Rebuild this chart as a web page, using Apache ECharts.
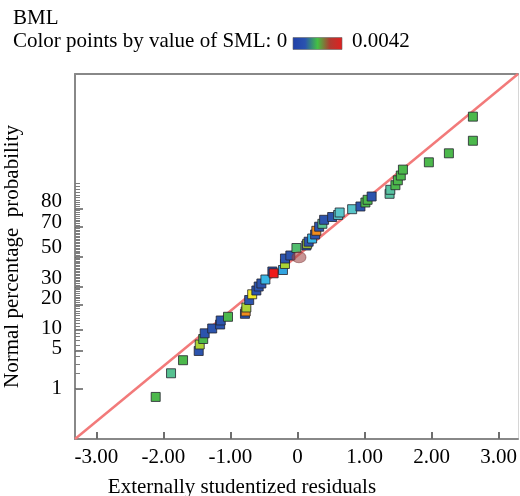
<!DOCTYPE html>
<html><head><meta charset="utf-8">
<script src="https://cdn.jsdelivr.net/npm/echarts@6/dist/echarts.min.js"></script>
<style>html,body{margin:0;padding:0;background:#fff}#c{width:520px;height:496px}</style>
</head><body><div id="c"></div>
<script>
// Externally studentized residuals (x)
const residuals = [-2.116,-1.887,-1.708,-1.474,-1.459,-1.407,-1.385,-1.273,-1.154,-1.146,
  -1.037,-0.784,-0.773,-0.763,-0.721,-0.676,-0.614,-0.579,-0.539,-0.479,
  -0.375,-0.356,-0.217,-0.187,-0.187,-0.107,-0.016,0.132,0.144,0.166,
  0.218,0.263,0.281,0.323,0.371,0.397,0.517,0.606,0.629,0.815,
  0.939,1.013,1.046,1.106,1.374,1.385,1.461,1.497,1.541,1.573,
  1.960,2.259,2.617,2.617];
// Normal % probability (y)
const probabilities = [0.69,2.03,3.45,4.88,6.14,7.40,8.90,10.34,11.66,13.09,
  14.52,15.75,16.75,18.56,22.28,25.38,27.56,29.94,31.80,34.34,
  39.63,38.42,40.64,44.77,48.60,50.70,55.92,57.65,58.81,60.24,
  62.38,65.02,67.39,69.93,71.68,74.01,75.57,76.66,77.98,79.66,
  80.97,82.81,83.99,85.36,86.42,87.89,89.44,90.93,92.22,93.62,
  95.07,96.48,97.88,99.29];
// SML value used for colouring
const smlValues = [0.0021,0.0017,0.0021,0.0001,0.0025,0.0021,0.0001,0.0001,0.0001,0.0001,
  0.0021,0.0001,0.0035,0.0025,0.0001,0.0028,0.0001,0.0001,0.0001,0.0008,
  0.0001,0.0042,0.0006,0.0025,0.0001,0.0001,0.0019,0.0001,0.0025,0.0001,
  0.0008,0.0001,0.0035,0.0001,0.0017,0.0001,0.0001,0.0013,0.0013,0.0013,
  0.0001,0.0021,0.0021,0.0001,0.0016,0.0016,0.0021,0.0021,0.0021,0.0021,
  0.0021,0.0021,0.0021,0.0021];
// Fitted normal line end points
const lineResiduals = [-3.32, 3.29];
const linePercent = [0.0687, 99.9313];
// Highlighted point (circle)
const markResidual = [0.022];
const markPercent = [49.44];
// Axis ticks
const yTickLabels = [1,5,10,20,30,50,70,80,90];
const yMinorTickPercents = Array.from({length:90}, (_, i) => i + 1);
const xTickValues = [-3,-2,-1,0,1,2,3];
const smlMin = 0, smlMax = 0.0042;

function probit(p){
  const a=[-3.969683028665376e+01,2.209460984245205e+02,-2.759285104469687e+02,1.383577518672690e+02,-3.066479806614716e+01,2.506628277459239e+00];
  const b=[-5.447609879822406e+01,1.615858368580409e+02,-1.556989798598866e+02,6.680131188771972e+01,-1.328068155288572e+01];
  const c=[-7.784894002430293e-03,-3.223964580411365e-01,-2.400758277161838e+00,-2.549732539343734e+00,4.374664141464968e+00,2.938163982698783e+00];
  const d=[7.784695709041462e-03,3.224671290700398e-01,2.445134137142996e+00,3.754408661907416e+00];
  const pl=0.02425, ph=1-pl; let q, r;
  if (p < pl) { q=Math.sqrt(-2*Math.log(p)); return (((((c[0]*q+c[1])*q+c[2])*q+c[3])*q+c[4])*q+c[5])/((((d[0]*q+d[1])*q+d[2])*q+d[3])*q+1); }
  if (p <= ph) { q=p-0.5; r=q*q; return (((((a[0]*r+a[1])*r+a[2])*r+a[3])*r+a[4])*r+a[5])*q/(((((b[0]*r+b[1])*r+b[2])*r+b[3])*r+b[4])*r+1); }
  q=Math.sqrt(-2*Math.log(1-p)); return -(((((c[0]*q+c[1])*q+c[2])*q+c[3])*q+c[4])*q+c[5])/((((d[0]*q+d[1])*q+d[2])*q+d[3])*q+1);
}
const z = pct => probit(pct / 100);

const FONT = '"Liberation Serif","Times New Roman",serif';
const AX = '#888888';
const yMin = -3.2, yMax = 3.2, xMin = -3.32, xMax = 3.29;
const majorZ = yTickLabels.map(z);
const minorZ = yMinorTickPercents.map(z);

// label lift (px) per y tick label, as laid out in the reference
const labelLift = [1, 2, 1, 6, 8, 9, 4, 7, 1];
const yRich = {};
labelLift.forEach((l, i) => { yRich['u' + i] = {fontFamily: FONT, fontSize: 21, color: '#000', padding: [0, 0, 2 * l, 0]}; });

const points = residuals.map((x, i) => [x, z(probabilities[i]), smlValues[i]]);
const lineData = lineResiduals.map((x, i) => [x, z(linePercent[i])]);
const markData = markResidual.map((x, i) => [x, z(markPercent[i])]);

const chart = echarts.init(document.getElementById('c'));
chart.setOption({
  animation: false,
  backgroundColor: '#fff',
  grid: {left: 75, right: 2, top: 74, bottom: 57, containLabel: false, outerBoundsMode: 'none'},
  visualMap: {
    type: 'continuous', show: false, dimension: 2, seriesIndex: 1,
    min: smlMin, max: smlMax,
    inRange: {color: ['#2b44a3','#33b4ea','#5ec8c4','#4cb84c','#f2e826','#f08c1c','#ee1a1a']}
  },
  xAxis: [{
    type: 'value', min: xMin, max: xMax, position: 'bottom',
    axisLine: {show: true, onZero: false, lineStyle: {color: AX, width: 2}},
    axisTick: {show: true, inside: true, length: 7, customValues: xTickValues, lineStyle: {color: '#6e6e6e', width: 2}},
    axisLabel: {customValues: xTickValues, margin: 8, fontFamily: FONT, fontSize: 21, color: '#000',
      formatter: v => v === 0 ? '0' : v.toFixed(2)},
    splitLine: {show: false},
    name: 'Externally studentized residuals', nameLocation: 'middle', nameGap: 38,
    nameTextStyle: {fontFamily: FONT, fontSize: 21, color: '#000', padding: [0, 109, 0, 0]}
  }, {
    type: 'value', min: xMin, max: xMax, position: 'top',
    axisLine: {show: true, onZero: false, lineStyle: {color: AX, width: 2}},
    axisTick: {show: false}, axisLabel: {show: false}, splitLine: {show: false}
  }],
  yAxis: [{
    type: 'value', min: yMin, max: yMax, position: 'left',
    axisLine: {show: true, onZero: false, lineStyle: {color: AX, width: 2}},
    axisTick: {show: true, inside: true, length: 8, customValues: majorZ, lineStyle: {color: '#5e5e5e', width: 1.5}},
    axisLabel: {customValues: majorZ, margin: 13, fontFamily: FONT, fontSize: 21, color: '#000', rich: yRich,
      formatter: v => { let best = 0; majorZ.forEach((m, i) => { if (Math.abs(m - v) < Math.abs(majorZ[best] - v)) best = i; }); return '{u' + best + '|' + yTickLabels[best] + '}'; }},
    splitLine: {show: false},
    name: 'Normal percentage  probability', nameLocation: 'middle', nameGap: 52,
    nameTextStyle: {fontFamily: FONT, fontSize: 21, color: '#000'}
  }, {
    type: 'value', min: yMin, max: yMax, position: 'left', offset: 0,
    axisLine: {show: false, onZero: false},
    axisTick: {show: true, inside: true, length: 5, customValues: minorZ, lineStyle: {color: '#7c7c7c', width: 1}},
    axisLabel: {show: false}, splitLine: {show: false}
  }, {
    type: 'value', min: yMin, max: yMax, position: 'right',
    axisLine: {show: true, onZero: false, lineStyle: {color: '#d6d6d6', width: 1}},
    axisTick: {show: false}, axisLabel: {show: false}, splitLine: {show: false}
  }],
  series: [{
    type: 'line', data: lineData, symbol: 'none', silent: true, z: 1,
    lineStyle: {color: '#f27a7a', width: 2.5}
  }, {
    type: 'scatter', data: points, symbol: 'rect', symbolSize: 9, z: 3,
    itemStyle: {borderColor: 'rgba(35,35,45,0.8)', borderWidth: 1, opacity: 1}
  }, {
    type: 'scatter', data: markData, symbol: 'circle', symbolSize: [14, 11], z: 4,
    itemStyle: {color: 'rgba(160,70,70,0.72)', borderColor: 'rgba(120,50,50,0.6)', borderWidth: 1}
  }],
  graphic: [
    {type: 'text', x: 13, y: 18, style: {text: 'BML', fontFamily: FONT, fontSize: 21, fill: '#000', verticalAlign: 'middle'}},
    {type: 'text', x: 13, y: 41, style: {text: 'Color points by value of SML: 0', fontFamily: FONT, fontSize: 21, fill: '#000', verticalAlign: 'middle'}},
    {type: 'rect', shape: {x: 293, y: 37.5, width: 49, height: 12},
      style: {fill: new echarts.graphic.LinearGradient(0, 0, 1, 0, [
        {offset: 0, color: '#2040a8'}, {offset: 0.25, color: '#2a52b0'},
        {offset: 0.5, color: '#44c044'}, {offset: 0.75, color: '#b03a30'}, {offset: 1, color: '#e02020'}]),
        stroke: '#666', lineWidth: 0.6}},
    {type: 'text', x: 352, y: 41, style: {text: '0.0042', fontFamily: FONT, fontSize: 21, fill: '#000', verticalAlign: 'middle'}}
  ]
});
</script></body></html>
